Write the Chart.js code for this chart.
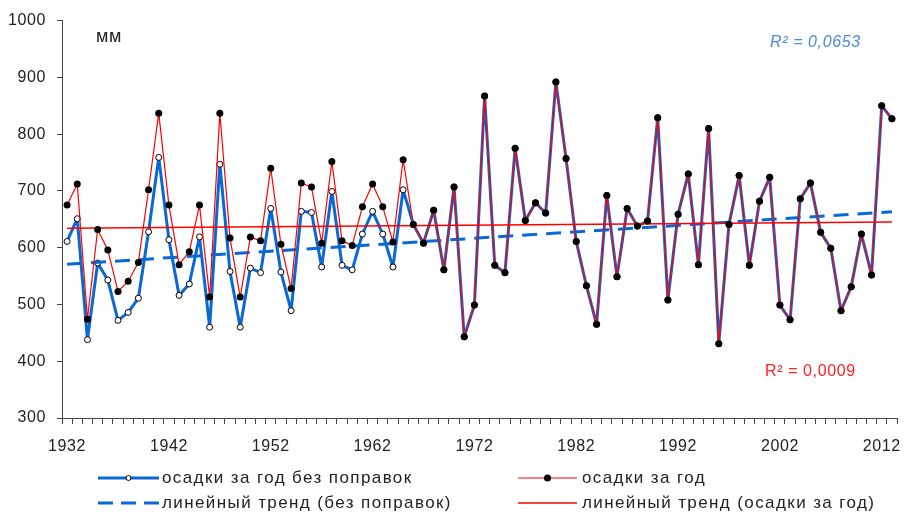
<!DOCTYPE html>
<html>
<head>
<meta charset="utf-8">
<script src="https://cdn.jsdelivr.net/npm/chart.js@4.4.1/dist/chart.umd.min.js"></script>
<style>
    html, body { margin: 0; padding: 0; background: #fff; }
    canvas { display: block; }
</style>
</head>
<body>
<canvas id="chart" width="907" height="518"></canvas>
<script>
// years on the category axis
const years = Array.from({ length: 82 }, (_, i) => String(1932 + i));

// осадки за год (с поправками), мм
const precip = [
    675, 712, 474, 632, 596, 523, 541, 574, 702, 837,
    675, 570, 593, 675, 513, 837, 617, 513, 619, 612,
    740, 606, 528, 714, 707, 608, 752, 612, 604, 672,
    712, 672, 610, 755, 641, 608, 666, 561, 707, 443,
    499, 867, 569, 556, 775, 648, 679, 661, 892, 757,
    611, 533, 465, 692, 549, 669, 638, 647, 829, 508,
    659, 730, 570, 810, 431, 641, 727, 569, 682, 724,
    499, 473, 686, 714, 627, 599, 489, 531, 624, 552,
    850, 827
];

// осадки без поправок, 1932-1965 (later years equal the corrected series)
const precipRawEarly = [
    611, 651, 438, 573, 543, 472, 486, 511, 628, 759,
    614, 516, 536, 619, 460, 747, 558, 460, 564, 556,
    669, 557, 489, 664, 662, 566, 699, 569, 561, 624,
    664, 624, 566, 702
];
const precipRaw = precipRawEarly.concat(precip.slice(precipRawEarly.length));

const yTicks = [300, 400, 500, 600, 700, 800, 900, 1000];
const labelYears = ['1932', '1942', '1952', '1962', '1972', '1982', '1992', '2002', '2012'];

const legendLabels = [
    'осадки за год без поправок',
    'осадки за год',
    'линейный тренд (без поправок)',
    'линейный тренд (осадки за год)'
];
const r2Raw = 'R² = 0,0653';
const r2Precip = 'R² = 0,0009';

const blue = '#0a68d4';
const red = '#ff0000';
const FONT = "'Liberation Sans', Arial, sans-serif";

// least squares trend, returned as its two end points
function trendLine(values) {
    const n = values.length;
    let sx = 0, sy = 0, sxx = 0, sxy = 0;
    values.forEach((v, i) => { sx += i; sy += v; sxx += i * i; sxy += i * v; });
    const b = (n * sxy - sx * sy) / (n * sxx - sx * sx);
    const a = (sy - b * sx) / n;
    return [
        { x: years[0], y: a },
        { x: years[n - 1], y: a + b * (n - 1) }
    ];
}

const extras = {
    id: 'extras',
    beforeLayout(chart) { chart.ctx.letterSpacing = '0.6px'; },
    beforeDraw(chart) { chart.ctx.letterSpacing = '0.6px'; },
    afterDraw(chart) {
        const ctx = chart.ctx;
        ctx.save();
        ctx.letterSpacing = '0.6px';
        ctx.textBaseline = 'middle';
        ctx.textAlign = 'left';

        ctx.fillStyle = '#222';
        ctx.font = '18px ' + FONT;
        ctx.fillText('мм', 96, 37);

        ctx.font = 'italic 16px ' + FONT;
        ctx.fillStyle = '#4a8ad8';
        ctx.fillText(r2Raw, 770, 43);

        ctx.font = '16px ' + FONT;
        ctx.fillStyle = '#ff2020';
        ctx.fillText(r2Precip, 765, 372);

        // legend
        const rows = [478, 503];
        const col1 = 98, col2 = 518;
        ctx.lineCap = 'butt';

        // uncorrected series
        ctx.strokeStyle = blue;
        ctx.lineWidth = 3;
        ctx.beginPath();
        ctx.moveTo(col1, rows[0]); ctx.lineTo(col1 + 61, rows[0]);
        ctx.stroke();
        ctx.beginPath();
        ctx.arc(col1 + 30.5, rows[0], 2.5, 0, Math.PI * 2);
        ctx.fillStyle = '#fff'; ctx.fill();
        ctx.lineWidth = 1; ctx.strokeStyle = '#000'; ctx.stroke();

        // corrected series
        ctx.strokeStyle = red;
        ctx.lineWidth = 1.2;
        ctx.beginPath();
        ctx.moveTo(col2, rows[0]); ctx.lineTo(col2 + 59, rows[0]);
        ctx.stroke();
        ctx.beginPath();
        ctx.arc(col2 + 29.5, rows[0], 3.5, 0, Math.PI * 2);
        ctx.fillStyle = '#000'; ctx.fill();

        // trends
        ctx.strokeStyle = blue;
        ctx.lineWidth = 3;
        ctx.setLineDash([15, 8]);
        ctx.beginPath();
        ctx.moveTo(col1, rows[1]); ctx.lineTo(col1 + 61, rows[1]);
        ctx.stroke();
        ctx.setLineDash([]);

        ctx.strokeStyle = red;
        ctx.lineWidth = 1.5;
        ctx.beginPath();
        ctx.moveTo(col2, rows[1]); ctx.lineTo(col2 + 59, rows[1]);
        ctx.stroke();

        ctx.letterSpacing = '1.4px';
        ctx.font = '17px ' + FONT;
        ctx.fillStyle = '#222';
        ctx.fillText(legendLabels[0], col1 + 64, rows[0]);
        ctx.fillText(legendLabels[1], col2 + 64, rows[0]);
        ctx.fillText(legendLabels[2], col1 + 64, rows[1]);
        ctx.fillText(legendLabels[3], col2 + 64, rows[1]);
        ctx.restore();
    }
};

const ctx = document.getElementById('chart').getContext('2d');

const chart = new Chart(ctx, {
    type: 'line',
    data: {
        labels: years,
        datasets: [
            {
                label: legendLabels[1],
                data: precip,
                borderColor: red,
                borderWidth: 1.2,
                borderJoinStyle: 'round',
                pointRadius: 3.5,
                pointBackgroundColor: '#000',
                pointBorderColor: '#000',
                pointBorderWidth: 0,
                tension: 0
            },
            {
                label: legendLabels[3],
                data: trendLine(precip),
                borderColor: red,
                borderWidth: 1.5,
                pointRadius: 0,
                spanGaps: true
            },
            {
                label: legendLabels[2],
                data: trendLine(precipRaw),
                borderColor: blue,
                borderWidth: 3,
                borderDash: [15, 9],
                pointRadius: 0,
                spanGaps: true
            },
            {
                label: legendLabels[0],
                data: precipRaw,
                borderColor: blue,
                borderWidth: 3,
                borderJoinStyle: 'round',
                pointRadius: 3,
                pointBackgroundColor: '#fff',
                pointBorderColor: '#000',
                pointBorderWidth: 1,
                tension: 0
            }
        ]
    },
    options: {
        responsive: false,
        animation: false,
        events: [],
        layout: {
            padding: { top: 15, right: 10, bottom: 60, left: 0 }
        },
        scales: {
            x: {
                type: 'category',
                offset: true,
                grid: {
                    display: true,
                    offset: true,
                    drawOnChartArea: false,
                    tickLength: 6,
                    color: '#444'
                },
                border: { display: true, color: '#444', width: 1 },
                ticks: {
                    autoSkip: false,
                    maxRotation: 0,
                    padding: 13,
                    color: '#222',
                    font: { family: FONT, size: 16 },
                    callback: (value, index) => labelYears.includes(years[index]) ? years[index] : ''
                },
                afterFit: scale => { scale.height = 40; }
            },
            y: {
                min: yTicks[0],
                max: yTicks[yTicks.length - 1],
                afterBuildTicks: scale => { scale.ticks = yTicks.map(v => ({ value: v })); },
                grid: {
                    display: true,
                    drawOnChartArea: false,
                    tickLength: 5,
                    color: '#444'
                },
                border: { display: true, color: '#444', width: 1 },
                ticks: {
                    padding: 11,
                    color: '#222',
                    font: { family: FONT, size: 16 },
                    callback: value => String(value)
                },
                afterFit: scale => { scale.width = 62; }
            }
        },
        plugins: {
            legend: { display: false },
            tooltip: { enabled: false }
        }
    },
    plugins: [extras]
});
</script>
</body>
</html>
